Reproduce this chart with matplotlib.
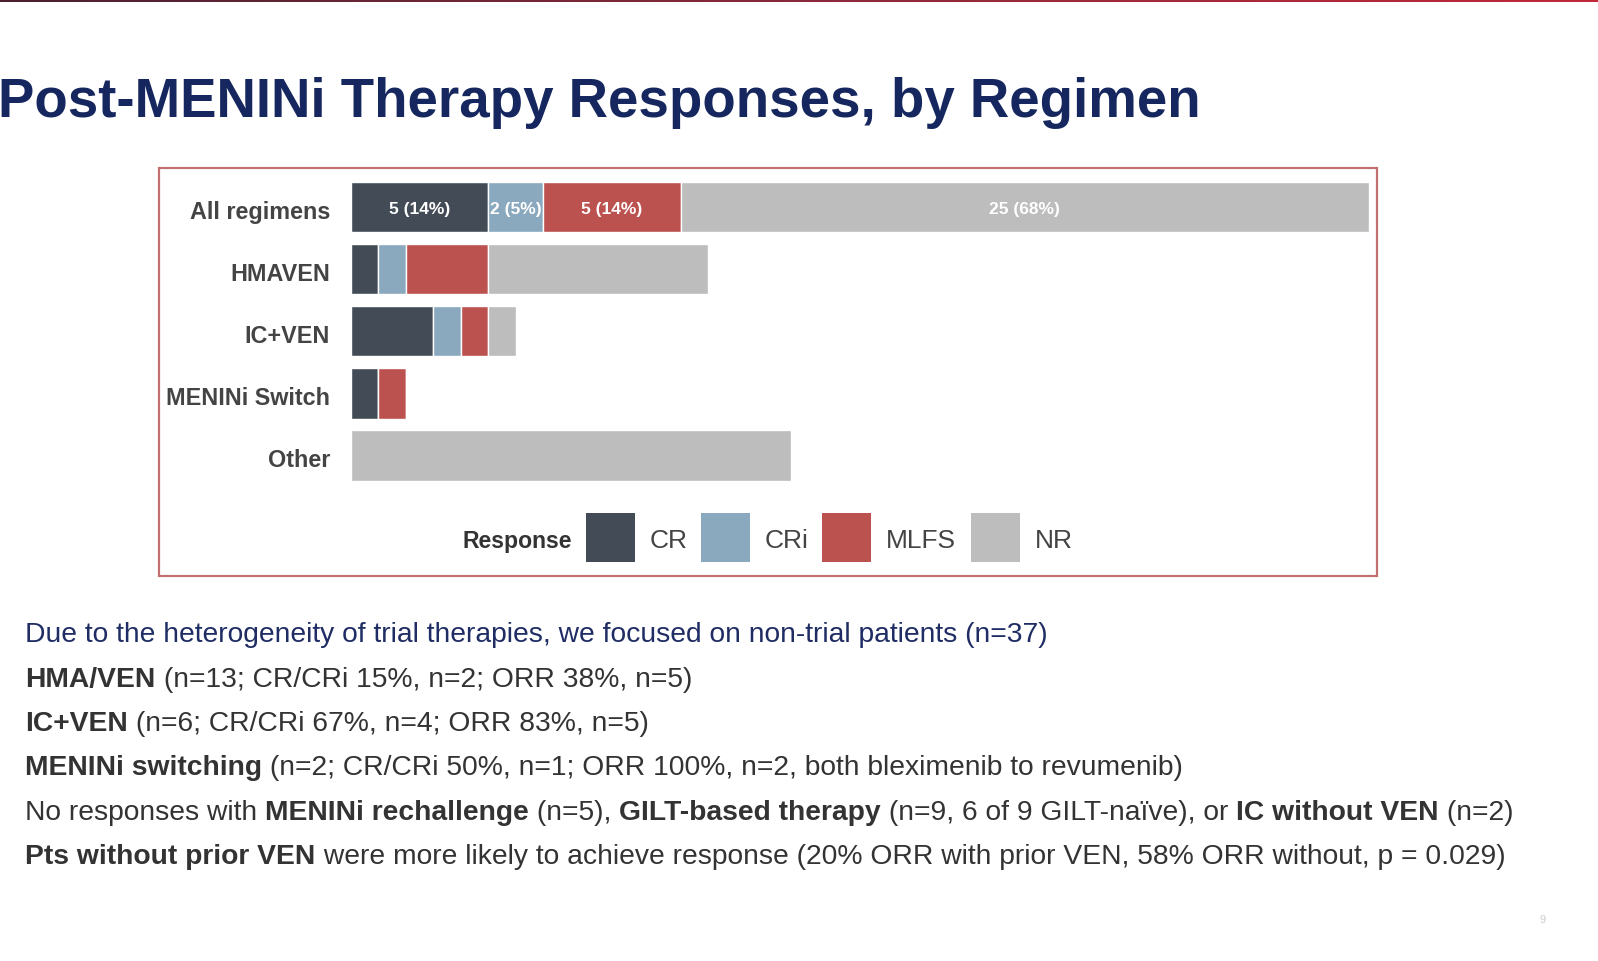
import matplotlib
matplotlib.use("Agg")
import matplotlib.pyplot as plt
from matplotlib.patches import Rectangle
from matplotlib.colors import LinearSegmentedColormap
import numpy as np

plt.rcParams['font.family'] = ['Liberation Sans', 'DejaVu Sans']

# ---- data ----
regimens = ["All regimens", "HMAVEN", "IC+VEN", "MENINi Switch", "Other"]
responses = ["CR", "CRi", "MLFS", "NR"]
cr_vals = [5, 1, 3, 1, 0]
cri_vals = [2, 1, 1, 0, 0]
mlfs_vals = [5, 3, 1, 1, 0]
nr_vals = [25, 8, 1, 0, 16]
all_labels = ["5 (14%)", "2 (5%)", "5 (14%)", "25 (68%)"]
colors = ["#434c56", "#8aa9be", "#bc5250", "#bdbdbd"]

W, H = 1598, 962
S = 1598 / 1568.0  # layout measured on a slightly reduced view
fig = plt.figure(figsize=(W / 100, H / 100), dpi=100)
fig.patch.set_facecolor("white")


def fx(x):
    return x * S / W


def fy(y):
    return 1 - y * S / H


# top gradient stripe
gax = fig.add_axes([0, fy(3), 1, 3 * S / H])
grad = np.linspace(0, 1, 256).reshape(1, -1)
cm = LinearSegmentedColormap.from_list("g", ["#4a2030", "#8a2a3a", "#c0283a"])
gax.imshow(grad, aspect="auto", cmap=cm)
gax.axis("off")

# title
fig.text(fx(-2), fy(101), "Post-MENINi Therapy Responses, by Regimen",
         fontsize=39.3, fontweight="bold", color="#15275e", va="center", ha="left")

# frame
fig.patches.append(Rectangle((fx(156), fy(566)), fx(1351) - fx(156), fy(166) - fy(566),
                             transform=fig.transFigure, fill=False,
                             edgecolor="#c07070", linewidth=1.6))

# bar axes
top_px, bot_px = 173.5, 478.5
ax = fig.add_axes([fx(344), fy(bot_px), fx(1343) - fx(344), fy(top_px) - fy(bot_px)])
ypos = np.arange(len(regimens))
series = [cr_vals, cri_vals, mlfs_vals, nr_vals]
left = np.zeros(len(regimens))
for vals, c in zip(series, colors):
    v = np.array(vals, dtype=float)
    ax.barh(ypos, v, left=left, height=0.81, color=c, edgecolor="white", linewidth=1.0)
    left += v
# labels on All regimens
l0 = 0
for vals, lab in zip(series, all_labels):
    v = vals[0]
    ax.text(l0 + v / 2, 0.03, lab, ha="center", va="center", color="white",
            fontsize=12.5, fontweight="bold")
    l0 += v
ax.set_xlim(0, 37)
ax.set_ylim(len(regimens) - 0.5, -0.5)
ax.set_yticks(ypos + 0.03)
ax.set_yticklabels(regimens, fontsize=16.8, fontweight="bold", color="#444444")
ax.tick_params(axis="y", length=0, pad=14.7)
ax.set_xticks([])
for s in ax.spines.values():
    s.set_visible(False)
ax.patch.set_alpha(0)

# legend (manual)
fig.text(fx(561), fy(531), "Response", fontsize=16.6, fontweight="bold",
         color="#333333", ha="right", va="center")
sq_x = [575, 688, 807, 953]
for x0, c, name in zip(sq_x, colors, responses):
    fig.patches.append(Rectangle((fx(x0), fy(552)), fx(x0 + 48) - fx(x0), fy(504) - fy(552),
                                 transform=fig.transFigure, facecolor=c, edgecolor="none"))
    fig.text(fx(x0 + 62), fy(531), name, fontsize=19, color="#444444",
             ha="left", va="center")

# rich text lines
renderer = fig.canvas.get_renderer()


def rich(x_px, y_px, segments, size=20.3, color="#333333"):
    x = x_px * S  # true pixels
    for txt, bold in segments:
        t = fig.text(x / W, fy(y_px), txt, fontsize=size,
                     fontweight="bold" if bold else "normal",
                     color=color, ha="left", va="center")
        bb = t.get_window_extent(renderer=renderer)
        x += bb.width


lines = [
    ([("Due to the heterogeneity of trial therapies, we focused on non-trial patients (n=37)", False)], "#1f2d64"),
    ([("HMA/VEN", True), (" (n=13; CR/CRi 15%, n=2; ORR 38%, n=5)", False)], "#333333"),
    ([("IC+VEN", True), (" (n=6; CR/CRi 67%, n=4; ORR 83%, n=5)", False)], "#333333"),
    ([("MENINi switching", True), (" (n=2; CR/CRi 50%, n=1; ORR 100%, n=2, both bleximenib to revumenib)", False)], "#333333"),
    ([("No responses with ", False), ("MENINi rechallenge", True), (" (n=5), ", False),
      ("GILT-based therapy", True), (" (n=9, 6 of 9 GILT-naïve), or ", False),
      ("IC without VEN", True), (" (n=2)", False)], "#333333"),
    ([("Pts without prior VEN", True),
      (" were more likely to achieve response (20% ORR with prior VEN, 58% ORR without, p = 0.029)", False)], "#333333"),
]
ys = [623, 667, 710, 754, 798, 841]
for (segs, col), y in zip(lines, ys):
    rich(25, y, segs, color=col)

fig.text(fx(1514), fy(903), "9", fontsize=8, color="#cccccc", ha="center", va="center")

fig.savefig("out.png", dpi=100, facecolor="white")
